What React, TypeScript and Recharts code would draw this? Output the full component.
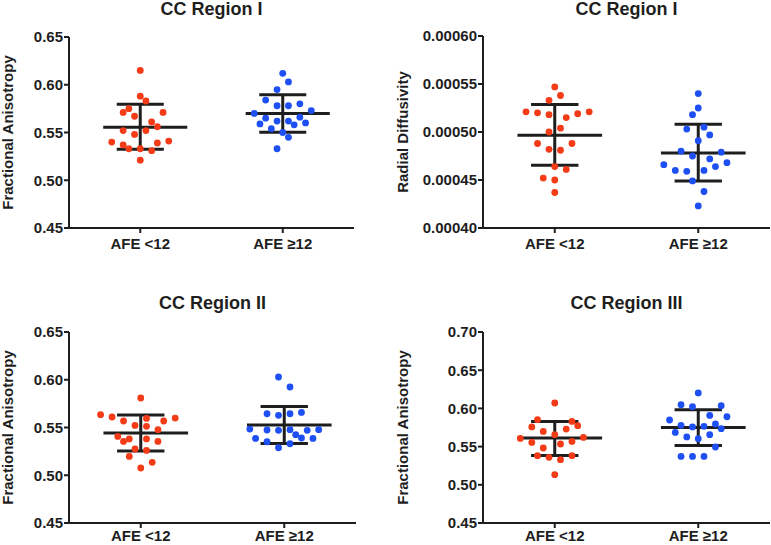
import React from 'react';
import {
  ScatterChart,
  Scatter,
  XAxis,
  YAxis,
  ReferenceLine,
} from 'recharts';

// group labels on the x axis
const groups = ['AFE <12', 'AFE ≥12'];

// each point: [horizontal jitter from the group centre, value]
const r1FaLow: [number, number][] = [
  [0, 0.615], [0, 0.588], [0.04, 0.583], [-0.08, 0.575], [-0.12, 0.571],
  [0.16, 0.571], [-0.04, 0.567], [0.08, 0.561], [0.12, 0.556], [-0.12, 0.552],
  [0.04, 0.552], [-0.04, 0.548], [-0.2, 0.540], [0.2, 0.541], [0.12, 0.539],
  [-0.12, 0.537], [-0.08, 0.533], [0, 0.533], [0.08, 0.531], [0, 0.521],
];
const r1FaHigh: [number, number][] = [
  [0, 0.612], [0.04, 0.603], [-0.04, 0.595], [-0.12, 0.584], [0.12, 0.580],
  [-0.04, 0.578], [0.04, 0.578], [-0.2, 0.570], [0.2, 0.573], [-0.12, 0.565],
  [-0.04, 0.562], [0.04, 0.562], [0.12, 0.566], [-0.16, 0.559], [-0.08, 0.554],
  [0.08, 0.558], [0.16, 0.560], [0, 0.550], [0.04, 0.545], [-0.04, 0.533],
];
// [mean, mean - sd, mean + sd]
const r1FaLowStats = [0.5555, 0.5324, 0.5796];
const r1FaHighStats = [0.5698, 0.5502, 0.5894];

const r1RdLow: [number, number][] = [
  [0, 0.000547], [0.04, 0.000538], [-0.04, 0.000533], [-0.2, 0.000521], [-0.12, 0.00052],
  [-0.04, 0.000518], [0.16, 0.000519], [0.24, 0.000521], [0.08, 0.000515], [0.04, 0.000504],
  [-0.04, 0.0005], [-0.12, 0.000488], [0.12, 0.000488], [-0.04, 0.000482], [0.04, 0.000481],
  [0, 0.000464], [0.08, 0.000461], [-0.08, 0.000452], [0, 0.00045], [0, 0.000437],
];
const r1RdHigh: [number, number][] = [
  [0, 0.00054], [0, 0.000525], [-0.04, 0.000518], [-0.08, 0.000503], [0.04, 0.000505],
  [0.08, 0.000497], [0, 0.000491], [-0.12, 0.00048], [-0.04, 0.000475], [0.08, 0.000472],
  [0.16, 0.000479], [-0.24, 0.000466], [0.2, 0.000468], [0.12, 0.000464], [-0.16, 0.00046],
  [-0.08, 0.000459], [0.04, 0.00046], [-0.04, 0.000449], [0.04, 0.000438], [0, 0.000423],
];
const r1RdLowStats = [0.0004967, 0.0004654, 0.0005287];
const r1RdHighStats = [0.000478, 0.000449, 0.000508];

const r2FaLow: [number, number][] = [
  [0, 0.5809], [-0.28, 0.5634], [-0.2, 0.561], [-0.12, 0.5568], [-0.04, 0.5522],
  [0.04, 0.5595], [0.16, 0.5568], [0.24, 0.5599], [0.04, 0.5512], [0.12, 0.5477],
  [-0.16, 0.5407], [-0.12, 0.5354], [-0.08, 0.538], [0.04, 0.538], [0.12, 0.5354],
  [-0.04, 0.5275], [0.04, 0.526], [-0.08, 0.5197], [0.08, 0.5135], [0, 0.5076],
];
const r2FaHigh: [number, number][] = [
  [-0.04, 0.6029], [0.04, 0.5924], [-0.12, 0.5644], [-0.04, 0.5627], [0.04, 0.5644],
  [0.12, 0.5658], [-0.24, 0.5484], [-0.12, 0.5474], [-0.04, 0.547], [0.04, 0.5477],
  [0.16, 0.547], [0.24, 0.5477], [0.08, 0.5425], [0.12, 0.539], [-0.2, 0.5386],
  [0.2, 0.5386], [-0.12, 0.5351], [0.04, 0.533], [-0.04, 0.5288],
];
const r2FaLowStats = [0.5442, 0.5254, 0.5631];
const r2FaHighStats = [0.5526, 0.5333, 0.5721];

const r3FaLow: [number, number][] = [
  [0, 0.6071], [-0.12, 0.5852], [0.12, 0.583], [-0.16, 0.5757], [0.16, 0.5774],
  [0.08, 0.573], [-0.08, 0.5699], [0, 0.5656], [-0.24, 0.5607], [0.2, 0.562],
  [-0.16, 0.5555], [0.04, 0.5534], [0.12, 0.5568], [-0.08, 0.5482], [-0.12, 0.5381],
  [-0.04, 0.5359], [0.04, 0.5329], [0.12, 0.5381], [0, 0.5132],
];
const r3FaHigh: [number, number][] = [
  [0, 0.6202], [-0.12, 0.6048], [-0.04, 0.6022], [0.16, 0.6035], [-0.2, 0.5848],
  [0.2, 0.5891], [0.08, 0.5908], [-0.12, 0.5778], [-0.04, 0.5757], [0.04, 0.5765],
  [0.12, 0.5796], [0.16, 0.5734], [-0.16, 0.5686], [-0.08, 0.5626], [0, 0.5603],
  [0.08, 0.5656], [0.12, 0.5495], [-0.12, 0.5372], [-0.04, 0.5372], [0.04, 0.5372],
];
const r3FaLowStats = [0.5613, 0.5385, 0.583];
const r3FaHighStats = [0.5751, 0.5516, 0.5983];

const faTicks = [0.45, 0.5, 0.55, 0.6, 0.65];
const rdTicks = [0.0004, 0.00045, 0.0005, 0.00055, 0.0006];
const fa3Ticks = [0.45, 0.5, 0.55, 0.6, 0.65, 0.7];

const RED = '#f43b17';
const BLUE = '#1d4ff3';
const INK = '#1e1e1e';
const FONT = '"Liberation Sans", Arial, Helvetica, sans-serif';

const toPoints = (pts: [number, number][], center: number) =>
  pts.map(([dx, v]) => ({ x: center + dx, y: v }));

const statLines = (center: number, stats: number[], key: string) => {
  const [mean, lo, hi] = stats;
  const seg = (x1: number, y1: number, x2: number, y2: number, k: string) => (
    <ReferenceLine
      key={key + k}
      segment={[{ x: x1, y: y1 }, { x: x2, y: y2 }]}
      stroke={INK}
      strokeWidth={3}
    />
  );
  return [
    seg(center - 0.26, mean, center + 0.33, mean, 'm'),
    seg(center, lo, center, hi, 'v'),
    seg(center - 0.165, hi, center + 0.165, hi, 'h'),
    seg(center - 0.165, lo, center + 0.165, lo, 'l'),
  ];
};

interface PanelProps {
  left: number;
  top: number;
  width: number;
  title: string;
  titleTop: number;
  yLabel: string;
  labelOffset: number;
  yTicks: number[];
  digits: number;
  low: [number, number][];
  high: [number, number][];
  lowStats: number[];
  highStats: number[];
  margin: { top: number; right: number; bottom: number; left: number };
  yAxisWidth: number;
  xAxisHeight: number;
  xTickMargin: number;
}

const tickStyle = { fill: INK, fontSize: 15, fontWeight: 700, fontFamily: FONT };

const Panel: React.FC<PanelProps> = (p) => {
  const plotLeft = p.yAxisWidth;
  const plotWidth = p.width - p.yAxisWidth - p.margin.right;
  return (
    <div style={{ position: 'absolute', left: p.left, top: p.top, width: p.width, height: 270 }}>
      <div
        style={{
          position: 'absolute',
          left: plotLeft,
          width: plotWidth,
          top: p.titleTop,
          textAlign: 'center',
          fontFamily: FONT,
          fontWeight: 700,
          fontSize: 18,
          lineHeight: '18px',
          color: INK,
          whiteSpace: 'nowrap',
        }}
      >
        {p.title}
      </div>
      <ScatterChart width={p.width} height={270} margin={p.margin}>
        <XAxis
          type="number"
          dataKey="x"
          domain={[0.5, 2.5]}
          ticks={[1, 2]}
          tickFormatter={(v: number) => groups[v - 1]}
          height={p.xAxisHeight}
          tick={tickStyle}
          tickSize={5}
          tickMargin={p.xTickMargin}
          axisLine={{ stroke: INK, strokeWidth: 2 }}
          tickLine={{ stroke: INK, strokeWidth: 2 }}
        />
        <YAxis
          type="number"
          dataKey="y"
          domain={[p.yTicks[0], p.yTicks[p.yTicks.length - 1]]}
          ticks={p.yTicks}
          tickFormatter={(v: number) => v.toFixed(p.digits)}
          width={p.yAxisWidth}
          tick={tickStyle}
          tickSize={5}
          tickMargin={1}
          axisLine={{ stroke: INK, strokeWidth: 2 }}
          tickLine={{ stroke: INK, strokeWidth: 2 }}
          label={{
            value: p.yLabel,
            angle: -90,
            position: 'insideLeft',
            offset: p.labelOffset,
            style: { textAnchor: 'middle', fill: INK, fontSize: 15, fontWeight: 700, fontFamily: FONT },
          }}
        />
        <Scatter
          data={toPoints(p.low, 1)}
          isAnimationActive={false}
          shape={(s: any) => <circle cx={s.cx} cy={s.cy} r={3.4} fill={RED} />}
        />
        <Scatter
          data={toPoints(p.high, 2)}
          isAnimationActive={false}
          shape={(s: any) => <circle cx={s.cx} cy={s.cy} r={3.4} fill={BLUE} />}
        />
        {statLines(1, p.lowStats, 'a')}
        {statLines(2, p.highStats, 'b')}
      </ScatterChart>
    </div>
  );
};

export default function App() {
  return (
    <div
      style={{
        position: 'absolute',
        left: 0,
        top: 0,
        width: 771,
        height: 545,
        background: '#fff',
        overflow: 'hidden',
      }}
    >
      <Panel
        left={0}
        top={0}
        width={385}
        title="CC Region I"
        titleTop={0}
        yLabel="Fractional Anisotropy"
        labelOffset={8}
        yTicks={faTicks}
        digits={2}
        low={r1FaLow}
        high={r1FaHigh}
        lowStats={r1FaLowStats}
        highStats={r1FaHighStats}
        margin={{ top: 37, right: 31, bottom: 0, left: 0 }}
        yAxisWidth={69}
        xAxisHeight={42}
        xTickMargin={5}
      />
      <Panel
        left={385}
        top={0}
        width={386}
        title="CC Region I"
        titleTop={0}
        yLabel="Radial Diffusivity"
        labelOffset={18}
        yTicks={rdTicks}
        digits={5}
        low={r1RdLow}
        high={r1RdHigh}
        lowStats={r1RdLowStats}
        highStats={r1RdHighStats}
        margin={{ top: 36, right: 1, bottom: 0, left: 0 }}
        yAxisWidth={98}
        xAxisHeight={42}
        xTickMargin={5}
      />
      <Panel
        left={0}
        top={275}
        width={385}
        title="CC Region II"
        titleTop={19}
        yLabel="Fractional Anisotropy"
        labelOffset={8}
        yTicks={faTicks}
        digits={2}
        low={r2FaLow}
        high={r2FaHigh}
        lowStats={r2FaLowStats}
        highStats={r2FaHighStats}
        margin={{ top: 57, right: 29, bottom: 0, left: 0 }}
        yAxisWidth={69}
        xAxisHeight={22}
        xTickMargin={2}
      />
      <Panel
        left={385}
        top={275}
        width={386}
        title="CC Region III"
        titleTop={19}
        yLabel="Fractional Anisotropy"
        labelOffset={18}
        yTicks={fa3Ticks}
        digits={2}
        low={r3FaLow}
        high={r3FaHigh}
        lowStats={r3FaLowStats}
        highStats={r3FaHighStats}
        margin={{ top: 57, right: 1, bottom: 0, left: 0 }}
        yAxisWidth={98}
        xAxisHeight={22}
        xTickMargin={2}
      />
    </div>
  );
}
